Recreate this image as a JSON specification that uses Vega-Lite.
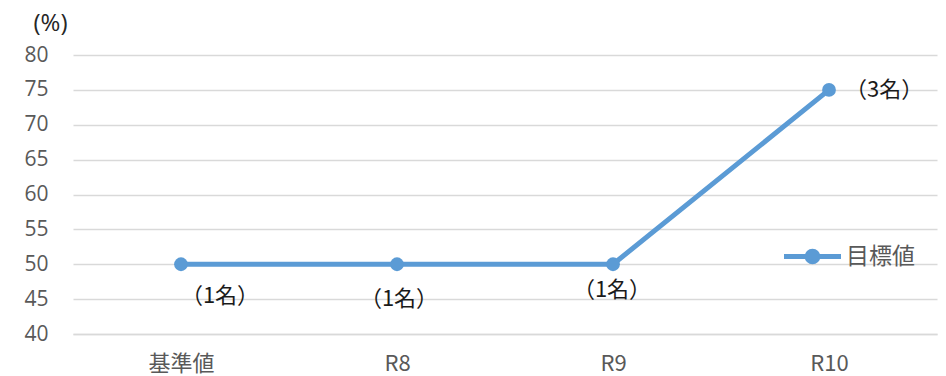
{
  "$schema": "https://vega.github.io/schema/vega-lite/v6.json",
  "width": 864,
  "height": 279,
  "autosize": {"type": "none"},
  "padding": {"left": 73, "top": 55, "right": 9, "bottom": 42},
  "background": "white",
  "config": {
    "view": {"stroke": null},
    "font": "Noto Sans CJK JP"
  },
  "data": {
    "values": [
      {"cat": "基準値", "value": 50, "label": "（1名）", "series": "目標値"},
      {"cat": "R8", "value": 50, "label": "（1名）", "series": "目標値"},
      {"cat": "R9", "value": 50, "label": "（1名）", "series": "目標値"},
      {"cat": "R10", "value": 75, "label": "（3名）", "series": "目標値"}
    ]
  },
  "encoding": {
    "x": {
      "field": "cat",
      "type": "ordinal",
      "sort": ["基準値", "R8", "R9", "R10"],
      "scale": {"type": "point", "padding": 0.5},
      "axis": {
        "title": null,
        "labelAngle": 0,
        "labelFont": "Liberation Sans Narrow, Noto Sans CJK JP",
        "labelFontSize": 22,
        "labelColor": "#595959",
        "labelPadding": 19,
        "ticks": false,
        "tickSize": 0,
        "domainColor": "#D9D9D9",
        "domainWidth": 1.5,
        "grid": false
      }
    },
    "y": {
      "field": "value",
      "type": "quantitative",
      "scale": {"domain": [40, 80], "nice": false, "zero": false},
      "axis": {
        "values": [40, 45, 50, 55, 60, 65, 70, 75, 80],
        "title": "(%)",
        "titleAngle": 0,
        "titleX": -23,
        "titleY": -32,
        "titleAlign": "center",
        "titleBaseline": "middle",
        "titleFontSize": 24,
        "titleFont": "Open Sans",
        "titleFontWeight": "normal",
        "titleColor": "#262626",
        "labelFont": "Open Sans",
        "labelFontSize": 21,
        "labelColor": "#595959",
        "labelPadding": 25,
        "ticks": false,
        "tickSize": 0,
        "domain": false,
        "grid": true,
        "gridColor": "#D9D9D9",
        "gridWidth": 1.5
      }
    }
  },
  "layer": [
    {
      "mark": {"type": "line", "strokeWidth": 5, "point": {"size": 190, "filled": true, "opacity": 1}},
      "encoding": {
        "color": {
          "field": "series",
          "type": "nominal",
          "scale": {"range": ["#5B9BD5"]},
          "legend": {
            "title": null,
            "orient": "none",
            "legendX": 728,
            "legendY": 190,
            "padding": 0,
            "symbolType": "M-4,0L4,0M0.75,0A0.75,0.75,0,1,1,-0.75,0A0.75,0.75,0,1,1,0.75,0",
            "symbolSize": 203,
            "symbolStrokeWidth": 5,
            "symbolFillColor": "#5B9BD5",
            "symbolStrokeColor": "#5B9BD5",
            "labelFontSize": 23,
            "labelColor": "#595959",
            "labelOffset": 22
          }
        }
      }
    },
    {
      "transform": [{"filter": "datum.cat === '基準値'"}],
      "mark": {"type": "text", "dx": 39, "dy": 32, "fontSize": 22, "color": "#1a1a1a"},
      "encoding": {"text": {"field": "label"}}
    },
    {
      "transform": [{"filter": "datum.cat === 'R8'"}],
      "mark": {"type": "text", "dx": 2, "dy": 35, "fontSize": 22, "color": "#1a1a1a"},
      "encoding": {"text": {"field": "label"}}
    },
    {
      "transform": [{"filter": "datum.cat === 'R9'"}],
      "mark": {"type": "text", "dx": -1, "dy": 26, "fontSize": 22, "color": "#1a1a1a"},
      "encoding": {"text": {"field": "label"}}
    },
    {
      "transform": [{"filter": "datum.cat === 'R10'"}],
      "mark": {"type": "text", "dx": 16, "dy": 0, "align": "left", "fontSize": 22, "color": "#1a1a1a"},
      "encoding": {"text": {"field": "label"}}
    }
  ]
}
